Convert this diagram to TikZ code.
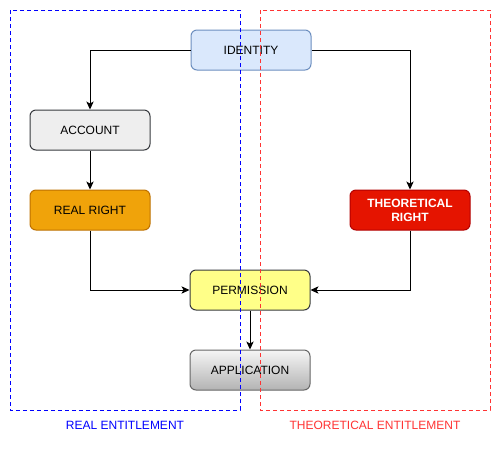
\documentclass[tikz,border=0pt]{standalone}
\usepackage{fontspec}
\setmainfont{Liberation Sans}
\usetikzlibrary{arrows.meta,shadings}
\definecolor{idfill}{HTML}{DAE8FC}
\definecolor{iddraw}{HTML}{6C8EBF}
\definecolor{accfill}{HTML}{EEEEEE}
\definecolor{darkdraw}{HTML}{36393D}
\definecolor{rrfill}{HTML}{F0A30A}
\definecolor{rrdraw}{HTML}{BD7000}
\definecolor{trfill}{HTML}{E51400}
\definecolor{trdraw}{HTML}{B20000}
\definecolor{permfill}{HTML}{FFFF88}
\definecolor{appdraw}{HTML}{666666}
\definecolor{apptop}{HTML}{F5F5F5}
\definecolor{appbot}{HTML}{B3B3B3}
\definecolor{realblue}{HTML}{0000FF}
\definecolor{theored}{HTML}{FF3333}
\tikzset{
  box/.style={draw, rounded corners=4.5pt, line width=0.75pt, minimum width=90pt, minimum height=30pt,
    inner sep=0pt, align=center, font=\fontsize{9pt}{10.5pt}\selectfont},
  conn/.style={line width=0.75pt, -{Stealth[length=6pt,width=5.5pt,inset=1.5pt]}},
  region/.style={dashed, line width=0.75pt, dash pattern=on 3pt off 2.25pt},
  regionlabel/.style={font=\fontsize{9pt}{10.5pt}\selectfont, inner sep=0pt}
}
\begin{document}
\begin{tikzpicture}[x=0.75pt,y=-0.75pt]
\useasboundingbox (0,0) rectangle (501,451);
\node[box, fill=idfill, draw=iddraw] (identity) at (251,50) {IDENTITY};
\node[box, fill=accfill, draw=darkdraw] (account) at (90,130) {ACCOUNT};
\node[box, fill=rrfill, draw=rrdraw] (realright) at (90,210) {REAL RIGHT};
\node[box, fill=trfill, draw=trdraw, text=white, font=\fontsize{9pt}{10.5pt}\selectfont\bfseries] (theoright) at (410,210) {THEORETICAL\\RIGHT};
\node[box, fill=permfill, draw=darkdraw] (permission) at (250,290) {PERMISSION};
\node[box, top color=apptop, bottom color=appbot, draw=appdraw] (application) at (250,370) {APPLICATION};

\draw[conn] (identity.west) -| (account.north);
\draw[conn] (identity.east) -| (theoright.north);
\draw[conn] (account.south) -- (realright.north);
\draw[conn] (realright.south) |- (permission.west);
\draw[conn] (theoright.south) |- (permission.east);
\draw[conn] (permission.south) -- (application.north);

\draw[region, draw=realblue] (10,10) rectangle (240,410);
\draw[region, draw=theored] (260,10) rectangle (490,410);
\node[regionlabel, text=realblue] (reallabel) at (125,425) {REAL ENTITLEMENT};
\node[regionlabel, text=theored] (theolabel) at (375,425) {THEORETICAL ENTITLEMENT};
\end{tikzpicture}
\end{document}
